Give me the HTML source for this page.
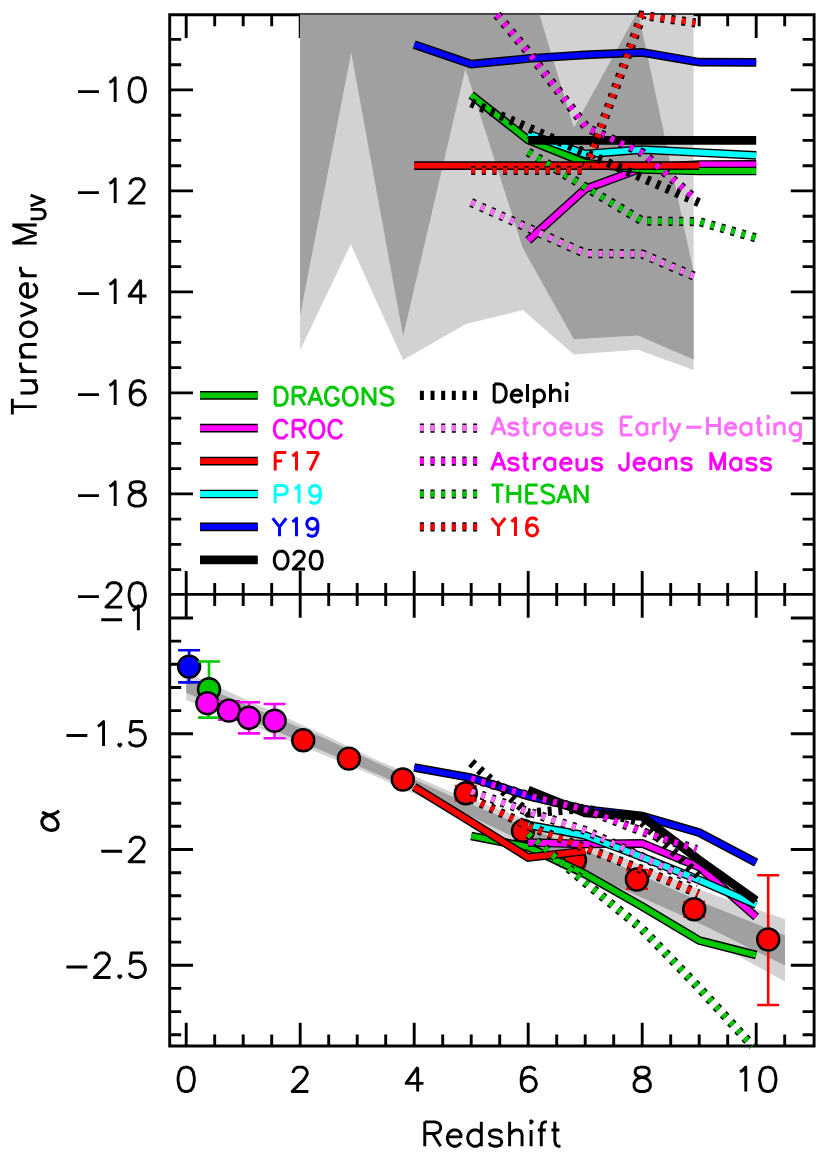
<!DOCTYPE html><html><head><meta charset="utf-8"><title>Turnover M_UV and alpha vs Redshift</title>
<style>html,body{margin:0;padding:0;background:#fff;font-family:"Liberation Sans",sans-serif}svg{display:block}</style></head><body>
<svg width="830" height="1171" viewBox="0 0 830 1171">
<rect width="830" height="1171" fill="#fff"/>
<defs><clipPath id="ct"><rect x="169.7" y="14.8" width="644.4" height="579.6"/></clipPath>
<clipPath id="cb"><rect x="169.7" y="594.4" width="644.4" height="451.6"/></clipPath></defs>
<path d="M169.7 14.8H814.1V1046.0H169.7ZM169.7 594.4H814.1M186.2 14.8v23.3M186.2 571.1v46.6M186.2 1046.0v-23.3M214.7 14.8v11.5M214.7 582.9v23.0M214.7 1046.0v-11.5M243.2 14.8v11.5M243.2 582.9v23.0M243.2 1046.0v-11.5M271.7 14.8v11.5M271.7 582.9v23.0M271.7 1046.0v-11.5M300.2 14.8v23.3M300.2 571.1v46.6M300.2 1046.0v-23.3M328.7 14.8v11.5M328.7 582.9v23.0M328.7 1046.0v-11.5M357.2 14.8v11.5M357.2 582.9v23.0M357.2 1046.0v-11.5M385.7 14.8v11.5M385.7 582.9v23.0M385.7 1046.0v-11.5M414.2 14.8v23.3M414.2 571.1v46.6M414.2 1046.0v-23.3M442.7 14.8v11.5M442.7 582.9v23.0M442.7 1046.0v-11.5M471.2 14.8v11.5M471.2 582.9v23.0M471.2 1046.0v-11.5M499.7 14.8v11.5M499.7 582.9v23.0M499.7 1046.0v-11.5M528.2 14.8v23.3M528.2 571.1v46.6M528.2 1046.0v-23.3M556.7 14.8v11.5M556.7 582.9v23.0M556.7 1046.0v-11.5M585.2 14.8v11.5M585.2 582.9v23.0M585.2 1046.0v-11.5M613.7 14.8v11.5M613.7 582.9v23.0M613.7 1046.0v-11.5M642.2 14.8v23.3M642.2 571.1v46.6M642.2 1046.0v-23.3M670.7 14.8v11.5M670.7 582.9v23.0M670.7 1046.0v-11.5M699.2 14.8v11.5M699.2 582.9v23.0M699.2 1046.0v-11.5M727.7 14.8v11.5M727.7 582.9v23.0M727.7 1046.0v-11.5M756.2 14.8v23.3M756.2 571.1v46.6M756.2 1046.0v-23.3M784.7 14.8v11.5M784.7 582.9v23.0M784.7 1046.0v-11.5M169.7 39.4h11.5M814.1 39.4h-11.5M169.7 64.7h11.5M814.1 64.7h-11.5M169.7 89.9h23.3M814.1 89.9h-23.3M169.7 115.2h11.5M814.1 115.2h-11.5M169.7 140.4h11.5M814.1 140.4h-11.5M169.7 165.7h11.5M814.1 165.7h-11.5M169.7 190.9h23.3M814.1 190.9h-23.3M169.7 216.2h11.5M814.1 216.2h-11.5M169.7 241.4h11.5M814.1 241.4h-11.5M169.7 266.6h11.5M814.1 266.6h-11.5M169.7 291.9h23.3M814.1 291.9h-23.3M169.7 317.1h11.5M814.1 317.1h-11.5M169.7 342.4h11.5M814.1 342.4h-11.5M169.7 367.6h11.5M814.1 367.6h-11.5M169.7 392.9h23.3M814.1 392.9h-23.3M169.7 418.1h11.5M814.1 418.1h-11.5M169.7 443.4h11.5M814.1 443.4h-11.5M169.7 468.6h11.5M814.1 468.6h-11.5M169.7 493.9h23.3M814.1 493.9h-23.3M169.7 519.1h11.5M814.1 519.1h-11.5M169.7 544.4h11.5M814.1 544.4h-11.5M169.7 569.6h11.5M814.1 569.6h-11.5M169.7 618.0h23.3M814.1 618.0h-23.3M169.7 641.1h11.5M814.1 641.1h-11.5M169.7 664.3h11.5M814.1 664.3h-11.5M169.7 687.5h11.5M814.1 687.5h-11.5M169.7 710.6h11.5M814.1 710.6h-11.5M169.7 733.8h23.3M814.1 733.8h-23.3M169.7 756.9h11.5M814.1 756.9h-11.5M169.7 780.1h11.5M814.1 780.1h-11.5M169.7 803.2h11.5M814.1 803.2h-11.5M169.7 826.3h11.5M814.1 826.3h-11.5M169.7 849.5h23.3M814.1 849.5h-23.3M169.7 872.7h11.5M814.1 872.7h-11.5M169.7 895.8h11.5M814.1 895.8h-11.5M169.7 918.9h11.5M814.1 918.9h-11.5M169.7 942.1h11.5M814.1 942.1h-11.5M169.7 965.2h23.3M814.1 965.2h-23.3M169.7 988.4h11.5M814.1 988.4h-11.5M169.7 1011.6h11.5M814.1 1011.6h-11.5M169.7 1034.7h11.5M814.1 1034.7h-11.5" fill="none" stroke="#000" stroke-width="2.90" stroke-linecap="butt" stroke-linejoin="miter"/>
<polygon clip-path="url(#ct)" fill="#d2d2d2" points="300.1,-50.0 300.1,350.2 350.7,244.3 403.1,360.0 465.9,324.0 522.8,310.1 573.9,354.4 637.9,349.8 693.6,370.0 693.6,-50.0"/>
<polygon clip-path="url(#ct)" fill="#a0a0a0" points="300.1,315.5 351.2,52.5 403.1,336.0 465.4,68.7 522.8,248.1 573.9,339.2 637.9,335.4 693.6,359.4 693.6,272.0 637.9,11.0 573.9,127.7 522.5,-41.0 300.1,-41.0"/>
<polyline points="528.2,240.5 585.2,189.0 642.2,168.0 699.2,164.5 756.2,164.3" fill="none" stroke="#000" stroke-width="8.70" stroke-linejoin="miter" stroke-miterlimit="10"/>
<polyline points="528.2,240.5 585.2,189.0 642.2,168.0 699.2,164.5 756.2,164.3" fill="none" stroke="#ff00ff" stroke-width="5.80" stroke-linejoin="miter" stroke-miterlimit="10"/>
<polyline points="471.2,95.0 528.2,140.0 585.2,163.0 642.2,169.5 699.2,171.0 756.2,171.0" fill="none" stroke="#000" stroke-width="8.70" stroke-linejoin="miter" stroke-miterlimit="10"/>
<polyline points="471.2,95.0 528.2,140.0 585.2,163.0 642.2,169.5 699.2,171.0 756.2,171.0" fill="none" stroke="#00c800" stroke-width="5.80" stroke-linejoin="miter" stroke-miterlimit="10"/>
<polyline points="414.2,165.7 699.2,165.7" fill="none" stroke="#000" stroke-width="8.70" stroke-linejoin="miter" stroke-miterlimit="10"/>
<polyline points="414.2,165.7 699.2,165.7" fill="none" stroke="#ff0000" stroke-width="5.80" stroke-linejoin="miter" stroke-miterlimit="10"/>
<polyline points="528.2,134.0 585.2,154.0 642.2,149.6 699.2,152.5 756.2,155.3" fill="none" stroke="#000" stroke-width="8.70" stroke-linejoin="miter" stroke-miterlimit="10"/>
<polyline points="528.2,134.0 585.2,154.0 642.2,149.6 699.2,152.5 756.2,155.3" fill="none" stroke="#00ffff" stroke-width="5.80" stroke-linejoin="miter" stroke-miterlimit="10"/>
<polyline points="414.2,44.6 471.2,64.2 528.2,58.5 585.2,54.8 642.2,52.4 699.2,62.2 756.2,62.4" fill="none" stroke="#000" stroke-width="8.70" stroke-linejoin="miter" stroke-miterlimit="10"/>
<polyline points="414.2,44.6 471.2,64.2 528.2,58.5 585.2,54.8 642.2,52.4 699.2,62.2 756.2,62.4" fill="none" stroke="#0000ff" stroke-width="5.80" stroke-linejoin="miter" stroke-miterlimit="10"/>
<polyline points="528.2,140.4 756.2,140.4" fill="none" stroke="#000" stroke-width="8.70" stroke-linejoin="miter" stroke-miterlimit="10"/>
<polyline points="471.2,102.8 700.5,203.3" fill="none" stroke="#000" stroke-width="9.20" stroke-linejoin="miter" stroke-miterlimit="10" stroke-dasharray="4.0 6.64"/>
<polyline points="471.2,202.5 528.2,228.0 585.2,253.5 642.2,254.0 696.0,277.0" fill="none" stroke="#000" stroke-width="9.20" stroke-linejoin="miter" stroke-miterlimit="10" stroke-dasharray="4.0 6.64"/>
<polyline points="471.2,202.5 528.2,228.0 585.2,253.5 642.2,254.0 696.0,277.0" fill="none" stroke="#ff6eff" stroke-width="6.20" stroke-linejoin="miter" stroke-miterlimit="10" stroke-dasharray="4.0 6.64"/>
<polyline points="497.0,14.8 528.2,52.0 586.8,127.8 642.2,152.7 696.0,199.6" fill="none" stroke="#000" stroke-width="9.20" stroke-linejoin="miter" stroke-miterlimit="10" stroke-dasharray="4.0 6.64"/>
<polyline points="497.0,14.8 528.2,52.0 586.8,127.8 642.2,152.7 696.0,199.6" fill="none" stroke="#ff00ff" stroke-width="6.20" stroke-linejoin="miter" stroke-miterlimit="10" stroke-dasharray="4.0 6.64"/>
<polyline points="528.2,152.0 585.2,187.0 642.2,221.0 699.2,221.6 756.2,238.0" fill="none" stroke="#000" stroke-width="9.20" stroke-linejoin="miter" stroke-miterlimit="10" stroke-dasharray="4.0 6.64"/>
<polyline points="528.2,152.0 585.2,187.0 642.2,221.0 699.2,221.6 756.2,238.0" fill="none" stroke="#00c800" stroke-width="6.20" stroke-linejoin="miter" stroke-miterlimit="10" stroke-dasharray="4.0 6.64"/>
<polyline points="471.2,170.5 528.2,170.5 585.2,170.5 642.2,15.3 695.5,22.9" fill="none" stroke="#000" stroke-width="9.20" stroke-linejoin="miter" stroke-miterlimit="10" stroke-dasharray="4.0 6.64"/>
<polyline points="471.2,170.5 528.2,170.5 585.2,170.5 642.2,15.3 695.5,22.9" fill="none" stroke="#ff0000" stroke-width="6.20" stroke-linejoin="miter" stroke-miterlimit="10" stroke-dasharray="4.0 6.64"/>
<polyline points="200.0,395.3 257.8,395.3" fill="none" stroke="#000" stroke-width="8.70" stroke-linejoin="miter" stroke-miterlimit="10"/>
<polyline points="200.0,395.3 257.8,395.3" fill="none" stroke="#00c800" stroke-width="5.80" stroke-linejoin="miter" stroke-miterlimit="10"/>
<path transform="translate(271.79 405.20) translate(0.00 0)" d="M3.41 -17.91L3.41 0.00 M3.41 -17.91L9.38 -17.91L11.94 -17.06L13.65 -15.35L14.50 -13.65L15.35 -11.09L15.35 -6.82L14.50 -4.26L13.65 -2.56L11.94 -0.85L9.38 0.00L3.41 0.00 M21.32 -17.91L21.32 0.00 M21.32 -17.91L29.00 -17.91L31.56 -17.06L32.41 -16.21L33.27 -14.50L33.27 -12.79L32.41 -11.09L31.56 -10.24L29.00 -9.38L21.32 -9.38 M27.30 -9.38L33.27 0.00 M43.50 -17.91L36.68 0.00 M43.50 -17.91L50.33 0.00 M39.24 -5.97L47.77 -5.97 M66.53 -13.65L65.68 -15.35L63.98 -17.06L62.27 -17.91L58.86 -17.91L57.15 -17.06L55.45 -15.35L54.59 -13.65L53.74 -11.09L53.74 -6.82L54.59 -4.26L55.45 -2.56L57.15 -0.85L58.86 0.00L62.27 0.00L63.98 -0.85L65.68 -2.56L66.53 -4.26L66.53 -6.82 M62.27 -6.82L66.53 -6.82 M76.77 -17.91L75.06 -17.06L73.36 -15.35L72.50 -13.65L71.65 -11.09L71.65 -6.82L72.50 -4.26L73.36 -2.56L75.06 -0.85L76.77 0.00L80.18 0.00L81.89 -0.85L83.59 -2.56L84.45 -4.26L85.30 -6.82L85.30 -11.09L84.45 -13.65L83.59 -15.35L81.89 -17.06L80.18 -17.91L76.77 -17.91 M91.27 -17.91L91.27 0.00 M91.27 -17.91L103.21 0.00 M103.21 -17.91L103.21 0.00 M121.13 -15.35L119.42 -17.06L116.86 -17.91L113.45 -17.91L110.89 -17.06L109.18 -15.35L109.18 -13.65L110.04 -11.94L110.89 -11.09L112.60 -10.24L117.71 -8.53L119.42 -7.68L120.27 -6.82L121.13 -5.12L121.13 -2.56L119.42 -0.85L116.86 0.00L113.45 0.00L110.89 -0.85L109.18 -2.56" fill="none" stroke="#00c800" stroke-width="3.00" stroke-linecap="butt" stroke-linejoin="round"/>
<polyline points="200.0,428.2 257.8,428.2" fill="none" stroke="#000" stroke-width="8.70" stroke-linejoin="miter" stroke-miterlimit="10"/>
<polyline points="200.0,428.2 257.8,428.2" fill="none" stroke="#ff00ff" stroke-width="5.80" stroke-linejoin="miter" stroke-miterlimit="10"/>
<path transform="translate(271.79 438.10) translate(0.00 0)" d="M15.35 -13.65L14.50 -15.35L12.79 -17.06L11.09 -17.91L7.68 -17.91L5.97 -17.06L4.26 -15.35L3.41 -13.65L2.56 -11.09L2.56 -6.82L3.41 -4.26L4.26 -2.56L5.97 -0.85L7.68 0.00L11.09 0.00L12.79 -0.85L14.50 -2.56L15.35 -4.26 M21.32 -17.91L21.32 0.00 M21.32 -17.91L29.00 -17.91L31.56 -17.06L32.41 -16.21L33.27 -14.50L33.27 -12.79L32.41 -11.09L31.56 -10.24L29.00 -9.38L21.32 -9.38 M27.30 -9.38L33.27 0.00 M43.50 -17.91L41.80 -17.06L40.09 -15.35L39.24 -13.65L38.38 -11.09L38.38 -6.82L39.24 -4.26L40.09 -2.56L41.80 -0.85L43.50 0.00L46.91 0.00L48.62 -0.85L50.33 -2.56L51.18 -4.26L52.03 -6.82L52.03 -11.09L51.18 -13.65L50.33 -15.35L48.62 -17.06L46.91 -17.91L43.50 -17.91 M69.95 -13.65L69.09 -15.35L67.39 -17.06L65.68 -17.91L62.27 -17.91L60.56 -17.06L58.86 -15.35L58.00 -13.65L57.15 -11.09L57.15 -6.82L58.00 -4.26L58.86 -2.56L60.56 -0.85L62.27 0.00L65.68 0.00L67.39 -0.85L69.09 -2.56L69.95 -4.26" fill="none" stroke="#ff00ff" stroke-width="3.00" stroke-linecap="butt" stroke-linejoin="round"/>
<polyline points="200.0,461.1 257.8,461.1" fill="none" stroke="#000" stroke-width="8.70" stroke-linejoin="miter" stroke-miterlimit="10"/>
<polyline points="200.0,461.1 257.8,461.1" fill="none" stroke="#ff0000" stroke-width="5.80" stroke-linejoin="miter" stroke-miterlimit="10"/>
<path transform="translate(271.79 470.40) translate(0.00 0)" d="M3.41 -17.91L3.41 0.00 M3.41 -17.91L14.50 -17.91 M3.41 -9.38L10.24 -9.38 M20.47 -14.50L22.18 -15.35L24.74 -17.91L24.74 0.00 M46.91 -17.91L38.38 0.00 M34.97 -17.91L46.91 -17.91" fill="none" stroke="#ff0000" stroke-width="3.00" stroke-linecap="butt" stroke-linejoin="round"/>
<polyline points="200.0,494.0 257.8,494.0" fill="none" stroke="#000" stroke-width="8.70" stroke-linejoin="miter" stroke-miterlimit="10"/>
<polyline points="200.0,494.0 257.8,494.0" fill="none" stroke="#00ffff" stroke-width="5.80" stroke-linejoin="miter" stroke-miterlimit="10"/>
<path transform="translate(271.79 503.30) translate(0.00 0)" d="M3.41 -17.91L3.41 0.00 M3.41 -17.91L11.09 -17.91L13.65 -17.06L14.50 -16.21L15.35 -14.50L15.35 -11.94L14.50 -10.24L13.65 -9.38L11.09 -8.53L3.41 -8.53 M23.03 -14.50L24.74 -15.35L27.30 -17.91L27.30 0.00 M48.62 -11.94L47.77 -9.38L46.06 -7.68L43.50 -6.82L42.65 -6.82L40.09 -7.68L38.38 -9.38L37.53 -11.94L37.53 -12.79L38.38 -15.35L40.09 -17.06L42.65 -17.91L43.50 -17.91L46.06 -17.06L47.77 -15.35L48.62 -11.94L48.62 -7.68L47.77 -3.41L46.06 -0.85L43.50 0.00L41.80 0.00L39.24 -0.85L38.38 -2.56" fill="none" stroke="#00ffff" stroke-width="3.00" stroke-linecap="butt" stroke-linejoin="round"/>
<polyline points="200.0,526.9 257.8,526.9" fill="none" stroke="#000" stroke-width="8.70" stroke-linejoin="miter" stroke-miterlimit="10"/>
<polyline points="200.0,526.9 257.8,526.9" fill="none" stroke="#0000ff" stroke-width="5.80" stroke-linejoin="miter" stroke-miterlimit="10"/>
<path transform="translate(271.79 536.20) translate(0.00 0)" d="M0.85 -17.91L7.68 -9.38L7.68 0.00 M14.50 -17.91L7.68 -9.38 M20.47 -14.50L22.18 -15.35L24.74 -17.91L24.74 0.00 M46.06 -11.94L45.21 -9.38L43.50 -7.68L40.94 -6.82L40.09 -6.82L37.53 -7.68L35.83 -9.38L34.97 -11.94L34.97 -12.79L35.83 -15.35L37.53 -17.06L40.09 -17.91L40.94 -17.91L43.50 -17.06L45.21 -15.35L46.06 -11.94L46.06 -7.68L45.21 -3.41L43.50 -0.85L40.94 0.00L39.24 0.00L36.68 -0.85L35.83 -2.56" fill="none" stroke="#0000ff" stroke-width="3.00" stroke-linecap="butt" stroke-linejoin="round"/>
<polyline points="200.0,559.8 257.8,559.8" fill="none" stroke="#000" stroke-width="8.70" stroke-linejoin="miter" stroke-miterlimit="10"/>
<path transform="translate(271.79 569.10) translate(0.00 0)" d="M7.68 -17.91L5.97 -17.06L4.26 -15.35L3.41 -13.65L2.56 -11.09L2.56 -6.82L3.41 -4.26L4.26 -2.56L5.97 -0.85L7.68 0.00L11.09 0.00L12.79 -0.85L14.50 -2.56L15.35 -4.26L16.21 -6.82L16.21 -11.09L15.35 -13.65L14.50 -15.35L12.79 -17.06L11.09 -17.91L7.68 -17.91 M22.18 -13.65L22.18 -14.50L23.03 -16.21L23.88 -17.06L25.59 -17.91L29.00 -17.91L30.71 -17.06L31.56 -16.21L32.41 -14.50L32.41 -12.79L31.56 -11.09L29.86 -8.53L21.32 0.00L33.27 0.00 M43.50 -17.91L40.94 -17.06L39.24 -14.50L38.38 -10.24L38.38 -7.68L39.24 -3.41L40.94 -0.85L43.50 0.00L45.21 0.00L47.77 -0.85L49.47 -3.41L50.33 -7.68L50.33 -10.24L49.47 -14.50L47.77 -17.06L45.21 -17.91L43.50 -17.91" fill="none" stroke="#000" stroke-width="3.00" stroke-linecap="butt" stroke-linejoin="round"/>
<polyline points="419.9,395.3 478.0,395.3" fill="none" stroke="#000" stroke-width="9.20" stroke-linejoin="miter" stroke-miterlimit="10" stroke-dasharray="4.0 6.64"/>
<path transform="translate(490.79 402.00) translate(0.00 0)" d="M3.41 -17.91L3.41 0.00 M3.41 -17.91L9.38 -17.91L11.94 -17.06L13.65 -15.35L14.50 -13.65L15.35 -11.09L15.35 -6.82L14.50 -4.26L13.65 -2.56L11.94 -0.85L9.38 0.00L3.41 0.00 M20.47 -6.82L30.71 -6.82L30.71 -8.53L29.86 -10.24L29.00 -11.09L27.30 -11.94L24.74 -11.94L23.03 -11.09L21.32 -9.38L20.47 -6.82L20.47 -5.12L21.32 -2.56L23.03 -0.85L24.74 0.00L27.30 0.00L29.00 -0.85L30.71 -2.56 M36.68 -17.91L36.68 0.00 M43.50 -11.94L43.50 5.97 M43.50 -9.38L45.21 -11.09L46.91 -11.94L49.47 -11.94L51.18 -11.09L52.89 -9.38L53.74 -6.82L53.74 -5.12L52.89 -2.56L51.18 -0.85L49.47 0.00L46.91 0.00L45.21 -0.85L43.50 -2.56 M59.71 -17.91L59.71 0.00 M59.71 -8.53L62.27 -11.09L63.98 -11.94L66.53 -11.94L68.24 -11.09L69.09 -8.53L69.09 0.00 M75.06 -17.91L75.92 -17.06L76.77 -17.91L75.92 -18.77L75.06 -17.91 M75.92 -11.94L75.92 0.00" fill="none" stroke="#000" stroke-width="3.00" stroke-linecap="butt" stroke-linejoin="round"/>
<polyline points="419.9,428.2 478.0,428.2" fill="none" stroke="#000" stroke-width="9.20" stroke-linejoin="miter" stroke-miterlimit="10" stroke-dasharray="4.0 6.64"/>
<polyline points="419.9,428.2 478.0,428.2" fill="none" stroke="#ff6eff" stroke-width="6.20" stroke-linejoin="miter" stroke-miterlimit="10" stroke-dasharray="4.0 6.64"/>
<path transform="translate(490.79 434.90) translate(0.00 0)" d="M7.68 -17.91L0.85 0.00 M7.68 -17.91L14.50 0.00 M3.41 -5.97L11.94 -5.97 M27.30 -9.38L26.44 -11.09L23.88 -11.94L21.32 -11.94L18.77 -11.09L17.91 -9.38L18.77 -7.68L20.47 -6.82L24.74 -5.97L26.44 -5.12L27.30 -3.41L27.30 -2.56L26.44 -0.85L23.88 0.00L21.32 0.00L18.77 -0.85L17.91 -2.56 M34.12 -17.91L34.12 -3.41L34.97 -0.85L36.68 0.00L38.38 0.00 M31.56 -11.94L37.53 -11.94 M43.50 -11.94L43.50 0.00 M43.50 -6.82L44.36 -9.38L46.06 -11.09L47.77 -11.94L50.33 -11.94 M63.98 -11.94L63.98 0.00 M63.98 -9.38L62.27 -11.09L60.56 -11.94L58.00 -11.94L56.30 -11.09L54.59 -9.38L53.74 -6.82L53.74 -5.12L54.59 -2.56L56.30 -0.85L58.00 0.00L60.56 0.00L62.27 -0.85L63.98 -2.56 M69.95 -6.82L80.18 -6.82L80.18 -8.53L79.33 -10.24L78.48 -11.09L76.77 -11.94L74.21 -11.94L72.50 -11.09L70.80 -9.38L69.95 -6.82L69.95 -5.12L70.80 -2.56L72.50 -0.85L74.21 0.00L76.77 0.00L78.48 -0.85L80.18 -2.56 M86.15 -11.94L86.15 -3.41L87.01 -0.85L88.71 0.00L91.27 0.00L92.98 -0.85L95.54 -3.41 M95.54 -11.94L95.54 0.00 M110.89 -9.38L110.04 -11.09L107.48 -11.94L104.92 -11.94L102.36 -11.09L101.51 -9.38L102.36 -7.68L104.07 -6.82L108.33 -5.97L110.04 -5.12L110.89 -3.41L110.89 -2.56L110.04 -0.85L107.48 0.00L104.92 0.00L102.36 -0.85L101.51 -2.56 M130.51 -17.91L130.51 0.00 M130.51 -17.91L141.60 -17.91 M130.51 -9.38L137.33 -9.38 M130.51 0.00L141.60 0.00 M156.10 -11.94L156.10 0.00 M156.10 -9.38L154.39 -11.09L152.69 -11.94L150.13 -11.94L148.42 -11.09L146.72 -9.38L145.86 -6.82L145.86 -5.12L146.72 -2.56L148.42 -0.85L150.13 0.00L152.69 0.00L154.39 -0.85L156.10 -2.56 M162.92 -11.94L162.92 0.00 M162.92 -6.82L163.78 -9.38L165.48 -11.09L167.19 -11.94L169.75 -11.94 M174.01 -17.91L174.01 0.00 M179.13 -11.94L184.25 0.00 M189.37 -11.94L184.25 0.00L182.54 3.41L180.84 5.12L179.13 5.97L178.28 5.97 M195.34 -7.68L210.69 -7.68 M216.66 -17.91L216.66 0.00 M228.60 -17.91L228.60 0.00 M216.66 -9.38L228.60 -9.38 M234.57 -6.82L244.81 -6.82L244.81 -8.53L243.96 -10.24L243.10 -11.09L241.40 -11.94L238.84 -11.94L237.13 -11.09L235.43 -9.38L234.57 -6.82L234.57 -5.12L235.43 -2.56L237.13 -0.85L238.84 0.00L241.40 0.00L243.10 -0.85L244.81 -2.56 M260.17 -11.94L260.17 0.00 M260.17 -9.38L258.46 -11.09L256.75 -11.94L254.19 -11.94L252.49 -11.09L250.78 -9.38L249.93 -6.82L249.93 -5.12L250.78 -2.56L252.49 -0.85L254.19 0.00L256.75 0.00L258.46 -0.85L260.17 -2.56 M267.84 -17.91L267.84 -3.41L268.69 -0.85L270.40 0.00L272.11 0.00 M265.28 -11.94L271.25 -11.94 M276.37 -17.91L277.22 -17.06L278.08 -17.91L277.22 -18.77L276.37 -17.91 M277.22 -11.94L277.22 0.00 M284.05 -11.94L284.05 0.00 M284.05 -8.53L286.61 -11.09L288.31 -11.94L290.87 -11.94L292.58 -11.09L293.43 -8.53L293.43 0.00 M309.64 -11.94L309.64 1.71L308.79 4.26L307.93 5.12L306.23 5.97L303.67 5.97L301.96 5.12 M309.64 -9.38L307.93 -11.09L306.23 -11.94L303.67 -11.94L301.96 -11.09L300.26 -9.38L299.40 -6.82L299.40 -5.12L300.26 -2.56L301.96 -0.85L303.67 0.00L306.23 0.00L307.93 -0.85L309.64 -2.56" fill="none" stroke="#ff6eff" stroke-width="3.00" stroke-linecap="butt" stroke-linejoin="round"/>
<polyline points="419.9,461.1 478.0,461.1" fill="none" stroke="#000" stroke-width="9.20" stroke-linejoin="miter" stroke-miterlimit="10" stroke-dasharray="4.0 6.64"/>
<polyline points="419.9,461.1 478.0,461.1" fill="none" stroke="#ff00ff" stroke-width="6.20" stroke-linejoin="miter" stroke-miterlimit="10" stroke-dasharray="4.0 6.64"/>
<path transform="translate(490.79 470.10) translate(0.00 0)" d="M7.68 -17.91L0.85 0.00 M7.68 -17.91L14.50 0.00 M3.41 -5.97L11.94 -5.97 M27.30 -9.38L26.44 -11.09L23.88 -11.94L21.32 -11.94L18.77 -11.09L17.91 -9.38L18.77 -7.68L20.47 -6.82L24.74 -5.97L26.44 -5.12L27.30 -3.41L27.30 -2.56L26.44 -0.85L23.88 0.00L21.32 0.00L18.77 -0.85L17.91 -2.56 M34.12 -17.91L34.12 -3.41L34.97 -0.85L36.68 0.00L38.38 0.00 M31.56 -11.94L37.53 -11.94 M43.50 -11.94L43.50 0.00 M43.50 -6.82L44.36 -9.38L46.06 -11.09L47.77 -11.94L50.33 -11.94 M63.98 -11.94L63.98 0.00 M63.98 -9.38L62.27 -11.09L60.56 -11.94L58.00 -11.94L56.30 -11.09L54.59 -9.38L53.74 -6.82L53.74 -5.12L54.59 -2.56L56.30 -0.85L58.00 0.00L60.56 0.00L62.27 -0.85L63.98 -2.56 M69.95 -6.82L80.18 -6.82L80.18 -8.53L79.33 -10.24L78.48 -11.09L76.77 -11.94L74.21 -11.94L72.50 -11.09L70.80 -9.38L69.95 -6.82L69.95 -5.12L70.80 -2.56L72.50 -0.85L74.21 0.00L76.77 0.00L78.48 -0.85L80.18 -2.56 M86.15 -11.94L86.15 -3.41L87.01 -0.85L88.71 0.00L91.27 0.00L92.98 -0.85L95.54 -3.41 M95.54 -11.94L95.54 0.00 M110.89 -9.38L110.04 -11.09L107.48 -11.94L104.92 -11.94L102.36 -11.09L101.51 -9.38L102.36 -7.68L104.07 -6.82L108.33 -5.97L110.04 -5.12L110.89 -3.41L110.89 -2.56L110.04 -0.85L107.48 0.00L104.92 0.00L102.36 -0.85L101.51 -2.56 M137.33 -17.91L137.33 -4.26L136.48 -1.71L135.63 -0.85L133.92 0.00L132.22 0.00L130.51 -0.85L129.66 -1.71L128.80 -4.26L128.80 -5.97 M143.30 -6.82L153.54 -6.82L153.54 -8.53L152.69 -10.24L151.83 -11.09L150.13 -11.94L147.57 -11.94L145.86 -11.09L144.16 -9.38L143.30 -6.82L143.30 -5.12L144.16 -2.56L145.86 -0.85L147.57 0.00L150.13 0.00L151.83 -0.85L153.54 -2.56 M168.89 -11.94L168.89 0.00 M168.89 -9.38L167.19 -11.09L165.48 -11.94L162.92 -11.94L161.22 -11.09L159.51 -9.38L158.66 -6.82L158.66 -5.12L159.51 -2.56L161.22 -0.85L162.92 0.00L165.48 0.00L167.19 -0.85L168.89 -2.56 M175.72 -11.94L175.72 0.00 M175.72 -8.53L178.28 -11.09L179.98 -11.94L182.54 -11.94L184.25 -11.09L185.10 -8.53L185.10 0.00 M200.45 -9.38L199.60 -11.09L197.04 -11.94L194.48 -11.94L191.92 -11.09L191.07 -9.38L191.92 -7.68L193.63 -6.82L197.90 -5.97L199.60 -5.12L200.45 -3.41L200.45 -2.56L199.60 -0.85L197.04 0.00L194.48 0.00L191.92 -0.85L191.07 -2.56 M220.07 -17.91L220.07 0.00 M220.07 -17.91L226.90 0.00 M233.72 -17.91L226.90 0.00 M233.72 -17.91L233.72 0.00 M249.93 -11.94L249.93 0.00 M249.93 -9.38L248.22 -11.09L246.52 -11.94L243.96 -11.94L242.25 -11.09L240.55 -9.38L239.69 -6.82L239.69 -5.12L240.55 -2.56L242.25 -0.85L243.96 0.00L246.52 0.00L248.22 -0.85L249.93 -2.56 M265.28 -9.38L264.43 -11.09L261.87 -11.94L259.31 -11.94L256.75 -11.09L255.90 -9.38L256.75 -7.68L258.46 -6.82L262.72 -5.97L264.43 -5.12L265.28 -3.41L265.28 -2.56L264.43 -0.85L261.87 0.00L259.31 0.00L256.75 -0.85L255.90 -2.56 M279.78 -9.38L278.93 -11.09L276.37 -11.94L273.81 -11.94L271.25 -11.09L270.40 -9.38L271.25 -7.68L272.96 -6.82L277.22 -5.97L278.93 -5.12L279.78 -3.41L279.78 -2.56L278.93 -0.85L276.37 0.00L273.81 0.00L271.25 -0.85L270.40 -2.56" fill="none" stroke="#ff00ff" stroke-width="3.00" stroke-linecap="butt" stroke-linejoin="round"/>
<polyline points="419.9,494.0 478.0,494.0" fill="none" stroke="#000" stroke-width="9.20" stroke-linejoin="miter" stroke-miterlimit="10" stroke-dasharray="4.0 6.64"/>
<polyline points="419.9,494.0 478.0,494.0" fill="none" stroke="#00c800" stroke-width="6.20" stroke-linejoin="miter" stroke-miterlimit="10" stroke-dasharray="4.0 6.64"/>
<path transform="translate(490.79 503.00) translate(0.00 0)" d="M6.82 -17.91L6.82 0.00 M0.85 -17.91L12.79 -17.91 M17.06 -17.91L17.06 0.00 M29.00 -17.91L29.00 0.00 M17.06 -9.38L29.00 -9.38 M35.83 -17.91L35.83 0.00 M35.83 -17.91L46.91 -17.91 M35.83 -9.38L42.65 -9.38 M35.83 0.00L46.91 0.00 M63.12 -15.35L61.42 -17.06L58.86 -17.91L55.45 -17.91L52.89 -17.06L51.18 -15.35L51.18 -13.65L52.03 -11.94L52.89 -11.09L54.59 -10.24L59.71 -8.53L61.42 -7.68L62.27 -6.82L63.12 -5.12L63.12 -2.56L61.42 -0.85L58.86 0.00L55.45 0.00L52.89 -0.85L51.18 -2.56 M73.36 -17.91L66.53 0.00 M73.36 -17.91L80.18 0.00 M69.09 -5.97L77.62 -5.97 M84.45 -17.91L84.45 0.00 M84.45 -17.91L96.39 0.00 M96.39 -17.91L96.39 0.00" fill="none" stroke="#00c800" stroke-width="3.00" stroke-linecap="butt" stroke-linejoin="round"/>
<polyline points="419.9,526.9 478.0,526.9" fill="none" stroke="#000" stroke-width="9.20" stroke-linejoin="miter" stroke-miterlimit="10" stroke-dasharray="4.0 6.64"/>
<polyline points="419.9,526.9 478.0,526.9" fill="none" stroke="#ff0000" stroke-width="6.20" stroke-linejoin="miter" stroke-miterlimit="10" stroke-dasharray="4.0 6.64"/>
<path transform="translate(490.79 535.90) translate(0.00 0)" d="M0.85 -17.91L7.68 -9.38L7.68 0.00 M14.50 -17.91L7.68 -9.38 M20.47 -14.50L22.18 -15.35L24.74 -17.91L24.74 0.00 M46.06 -15.35L45.21 -17.06L42.65 -17.91L40.94 -17.91L38.38 -17.06L36.68 -14.50L35.83 -10.24L35.83 -5.97L36.68 -2.56L38.38 -0.85L40.94 0.00L41.80 0.00L44.36 -0.85L46.06 -2.56L46.91 -5.12L46.91 -5.97L46.06 -8.53L44.36 -10.24L41.80 -11.09L40.94 -11.09L38.38 -10.24L36.68 -8.53L35.83 -5.97" fill="none" stroke="#ff0000" stroke-width="3.00" stroke-linecap="butt" stroke-linejoin="round"/>
<polygon clip-path="url(#cb)" fill="#d2d2d2" points="186.2,671.9 250.0,701.4 324.0,734.7 374.0,758.7 451.0,791.9 505.0,811.5 560.0,832.6 609.0,851.4 667.0,876.3 705.0,891.7 785.0,919.2 785.0,981.6 705.0,937.7 667.0,919.3 609.0,892.4 560.0,867.6 505.0,839.5 451.0,810.9 374.0,775.5 324.0,754.9 250.0,725.0 186.2,699.9"/>
<polygon clip-path="url(#cb)" fill="#a0a0a0" points="186.2,679.1 250.0,706.4 324.0,738.1 374.0,761.5 451.0,795.9 505.0,818.2 560.0,840.6 609.0,860.5 667.0,886.8 705.0,903.4 785.0,935.3 785.0,965.6 705.0,926.0 667.0,908.8 609.0,883.3 560.0,859.6 505.0,832.8 451.0,806.9 374.0,772.7 324.0,751.5 250.0,720.0 186.2,692.7"/>
<path d="M189.1 650.3V682.4M178.1 650.3h22M178.1 682.4h22" fill="none" stroke="#0000ff" stroke-width="2.6"/>
<circle cx="189.1" cy="666.6" r="11.0" fill="#0000ff" stroke="#000" stroke-width="2.4"/>
<path d="M209.0 661.5V717.6M198.0 661.5h22M198.0 717.6h22" fill="none" stroke="#00c800" stroke-width="2.6"/>
<circle cx="209.0" cy="689.3" r="11.0" fill="#00c800" stroke="#000" stroke-width="2.4"/>
<circle cx="207.4" cy="703.2" r="11.0" fill="#ff00ff" stroke="#000" stroke-width="2.4"/>
<path d="M228.9 701.4V719.8M217.9 701.4h22M217.9 719.8h22" fill="none" stroke="#ff00ff" stroke-width="2.6"/>
<circle cx="228.9" cy="710.6" r="11.0" fill="#ff00ff" stroke="#000" stroke-width="2.4"/>
<path d="M249.0 702.3V733.4M238.0 702.3h22M238.0 733.4h22" fill="none" stroke="#ff00ff" stroke-width="2.6"/>
<circle cx="249.0" cy="717.8" r="11.0" fill="#ff00ff" stroke="#000" stroke-width="2.4"/>
<path d="M274.6 704.0V738.3M263.6 704.0h22M263.6 738.3h22" fill="none" stroke="#ff00ff" stroke-width="2.6"/>
<circle cx="274.6" cy="720.7" r="11.0" fill="#ff00ff" stroke="#000" stroke-width="2.4"/>
<circle cx="303.2" cy="740.3" r="11.0" fill="#ff0000" stroke="#000" stroke-width="2.4"/>
<circle cx="348.9" cy="758.6" r="11.0" fill="#ff0000" stroke="#000" stroke-width="2.4"/>
<circle cx="402.8" cy="779.5" r="11.0" fill="#ff0000" stroke="#000" stroke-width="2.4"/>
<path d="M465.8 786.1V800.5M454.8 786.1h22M454.8 800.5h22" fill="none" stroke="#ff0000" stroke-width="2.6"/>
<circle cx="465.8" cy="793.3" r="11.0" fill="#ff0000" stroke="#000" stroke-width="2.4"/>
<path d="M523.0 826.0V835.6M512.0 826.0h22M512.0 835.6h22" fill="none" stroke="#ff0000" stroke-width="2.6"/>
<circle cx="523.0" cy="830.8" r="11.0" fill="#ff0000" stroke="#000" stroke-width="2.4"/>
<path d="M575.0 853.0V867.2M564.0 853.0h22M564.0 867.2h22" fill="none" stroke="#ff0000" stroke-width="2.6"/>
<circle cx="575.0" cy="860.1" r="11.0" fill="#ff0000" stroke="#000" stroke-width="2.4"/>
<path d="M636.9 870.2V888.7M625.9 870.2h22M625.9 888.7h22" fill="none" stroke="#ff0000" stroke-width="2.6"/>
<circle cx="636.9" cy="879.5" r="11.0" fill="#ff0000" stroke="#000" stroke-width="2.4"/>
<path d="M694.2 902.1V916.5M683.2 902.1h22M683.2 916.5h22" fill="none" stroke="#ff0000" stroke-width="2.6"/>
<circle cx="694.2" cy="909.3" r="11.0" fill="#ff0000" stroke="#000" stroke-width="2.4"/>
<path d="M768.2 875.2V1005.0M757.2 875.2h22M757.2 1005.0h22" fill="none" stroke="#ff0000" stroke-width="2.6"/>
<circle cx="768.2" cy="939.5" r="11.0" fill="#ff0000" stroke="#000" stroke-width="2.4"/>
<polyline points="471.2,836.0 528.2,847.0 585.2,874.0 642.2,906.4 699.2,940.5 756.2,955.0" fill="none" stroke="#000" stroke-width="8.70" stroke-linejoin="miter" stroke-miterlimit="10"/>
<polyline points="471.2,836.0 528.2,847.0 585.2,874.0 642.2,906.4 699.2,940.5 756.2,955.0" fill="none" stroke="#00c800" stroke-width="5.80" stroke-linejoin="miter" stroke-miterlimit="10"/>
<polyline points="528.2,842.5 585.2,844.0 642.2,843.4 699.2,867.0 756.2,917.0" fill="none" stroke="#000" stroke-width="8.70" stroke-linejoin="miter" stroke-miterlimit="10"/>
<polyline points="528.2,842.5 585.2,844.0 642.2,843.4 699.2,867.0 756.2,917.0" fill="none" stroke="#ff00ff" stroke-width="5.80" stroke-linejoin="miter" stroke-miterlimit="10"/>
<polyline points="414.2,787.0 471.2,822.0 528.2,857.5 585.2,851.0" fill="none" stroke="#000" stroke-width="8.70" stroke-linejoin="miter" stroke-miterlimit="10"/>
<polyline points="414.2,787.0 471.2,822.0 528.2,857.5 585.2,851.0" fill="none" stroke="#ff0000" stroke-width="5.80" stroke-linejoin="miter" stroke-miterlimit="10"/>
<polyline points="528.2,825.0 585.2,835.5 642.2,857.0 699.2,880.0 756.2,904.7" fill="none" stroke="#000" stroke-width="8.70" stroke-linejoin="miter" stroke-miterlimit="10"/>
<polyline points="528.2,825.0 585.2,835.5 642.2,857.0 699.2,880.0 756.2,904.7" fill="none" stroke="#00ffff" stroke-width="5.80" stroke-linejoin="miter" stroke-miterlimit="10"/>
<polyline points="414.2,767.5 471.2,777.8 528.2,796.0 585.2,809.5 642.2,816.0 699.2,832.6 756.2,862.6" fill="none" stroke="#000" stroke-width="8.70" stroke-linejoin="miter" stroke-miterlimit="10"/>
<polyline points="414.2,767.5 471.2,777.8 528.2,796.0 585.2,809.5 642.2,816.0 699.2,832.6 756.2,862.6" fill="none" stroke="#0000ff" stroke-width="5.80" stroke-linejoin="miter" stroke-miterlimit="10"/>
<polyline points="528.2,790.0 585.2,813.0 642.2,816.5 699.2,860.0 756.2,900.5" fill="none" stroke="#000" stroke-width="8.70" stroke-linejoin="miter" stroke-miterlimit="10"/>
<polyline points="471.2,762.5 528.2,813.0 585.2,808.5 642.2,822.3 698.5,875.5" fill="none" stroke="#000" stroke-width="9.20" stroke-linejoin="miter" stroke-miterlimit="10" stroke-dasharray="4.0 6.64"/>
<polyline points="471.2,791.5 528.2,811.7 585.2,830.5 642.2,857.0 698.5,882.8" fill="none" stroke="#000" stroke-width="9.20" stroke-linejoin="miter" stroke-miterlimit="10" stroke-dasharray="4.0 6.64"/>
<polyline points="471.2,791.5 528.2,811.7 585.2,830.5 642.2,857.0 698.5,882.8" fill="none" stroke="#ff6eff" stroke-width="6.20" stroke-linejoin="miter" stroke-miterlimit="10" stroke-dasharray="4.0 6.64"/>
<polyline points="471.2,778.4 528.2,795.5 585.2,809.6 642.2,831.5 696.5,849.5" fill="none" stroke="#000" stroke-width="9.20" stroke-linejoin="miter" stroke-miterlimit="10" stroke-dasharray="4.0 6.64"/>
<polyline points="471.2,778.4 528.2,795.5 585.2,809.6 642.2,831.5 696.5,849.5" fill="none" stroke="#ff00ff" stroke-width="6.20" stroke-linejoin="miter" stroke-miterlimit="10" stroke-dasharray="4.0 6.64"/>
<polyline points="528.2,834.0 585.2,882.5 642.2,929.0 699.2,988.0 752.5,1046.0" fill="none" stroke="#000" stroke-width="9.20" stroke-linejoin="miter" stroke-miterlimit="10" stroke-dasharray="4.0 6.64"/>
<polyline points="528.2,834.0 585.2,882.5 642.2,929.0 699.2,988.0 752.5,1046.0" fill="none" stroke="#00c800" stroke-width="6.20" stroke-linejoin="miter" stroke-miterlimit="10" stroke-dasharray="4.0 6.64"/>
<polyline points="471.2,798.5 528.2,826.0 585.2,848.0 642.2,869.5 698.5,893.6" fill="none" stroke="#000" stroke-width="9.20" stroke-linejoin="miter" stroke-miterlimit="10" stroke-dasharray="4.0 6.64"/>
<polyline points="471.2,798.5 528.2,826.0 585.2,848.0 642.2,869.5 698.5,893.6" fill="none" stroke="#ff0000" stroke-width="6.20" stroke-linejoin="miter" stroke-miterlimit="10" stroke-dasharray="4.0 6.64"/>
<path transform="translate(148.80 102.08) translate(-76.56 0)" d="M5.80 -10.44L26.68 -10.44 M37.12 -19.72L39.44 -20.88L42.92 -24.36L42.92 0.00 M63.80 -24.36L60.32 -23.20L58.00 -19.72L56.84 -13.92L56.84 -10.44L58.00 -4.64L60.32 -1.16L63.80 0.00L66.12 0.00L69.60 -1.16L71.92 -4.64L73.08 -10.44L73.08 -13.92L71.92 -19.72L69.60 -23.20L66.12 -24.36L63.80 -24.36" fill="none" stroke="#000" stroke-width="2.90" stroke-linecap="butt" stroke-linejoin="round"/>
<path transform="translate(148.80 203.08) translate(-76.56 0)" d="M5.80 -10.44L26.68 -10.44 M37.12 -19.72L39.44 -20.88L42.92 -24.36L42.92 0.00 M58.00 -18.56L58.00 -19.72L59.16 -22.04L60.32 -23.20L62.64 -24.36L67.28 -24.36L69.60 -23.20L70.76 -22.04L71.92 -19.72L71.92 -17.40L70.76 -15.08L68.44 -11.60L56.84 0.00L73.08 0.00" fill="none" stroke="#000" stroke-width="2.90" stroke-linecap="butt" stroke-linejoin="round"/>
<path transform="translate(148.80 304.08) translate(-76.56 0)" d="M5.80 -10.44L26.68 -10.44 M37.12 -19.72L39.44 -20.88L42.92 -24.36L42.92 0.00 M68.44 -24.36L56.84 -8.12L74.24 -8.12 M68.44 -24.36L68.44 0.00" fill="none" stroke="#000" stroke-width="2.90" stroke-linecap="butt" stroke-linejoin="round"/>
<path transform="translate(148.80 405.08) translate(-76.56 0)" d="M5.80 -10.44L26.68 -10.44 M37.12 -19.72L39.44 -20.88L42.92 -24.36L42.92 0.00 M71.92 -20.88L70.76 -23.20L67.28 -24.36L64.96 -24.36L61.48 -23.20L59.16 -19.72L58.00 -13.92L58.00 -8.12L59.16 -3.48L61.48 -1.16L64.96 0.00L66.12 0.00L69.60 -1.16L71.92 -3.48L73.08 -6.96L73.08 -8.12L71.92 -11.60L69.60 -13.92L66.12 -15.08L64.96 -15.08L61.48 -13.92L59.16 -11.60L58.00 -8.12" fill="none" stroke="#000" stroke-width="2.90" stroke-linecap="butt" stroke-linejoin="round"/>
<path transform="translate(148.80 506.08) translate(-76.56 0)" d="M5.80 -10.44L26.68 -10.44 M37.12 -19.72L39.44 -20.88L42.92 -24.36L42.92 0.00 M62.64 -24.36L59.16 -23.20L58.00 -20.88L58.00 -18.56L59.16 -16.24L61.48 -15.08L66.12 -13.92L69.60 -12.76L71.92 -10.44L73.08 -8.12L73.08 -4.64L71.92 -2.32L70.76 -1.16L67.28 0.00L62.64 0.00L59.16 -1.16L58.00 -2.32L56.84 -4.64L56.84 -8.12L58.00 -10.44L60.32 -12.76L63.80 -13.92L68.44 -15.08L70.76 -16.24L71.92 -18.56L71.92 -20.88L70.76 -23.20L67.28 -24.36L62.64 -24.36" fill="none" stroke="#000" stroke-width="2.90" stroke-linecap="butt" stroke-linejoin="round"/>
<path transform="translate(148.80 607.08) translate(-76.56 0)" d="M5.80 -10.44L26.68 -10.44 M34.80 -18.56L34.80 -19.72L35.96 -22.04L37.12 -23.20L39.44 -24.36L44.08 -24.36L46.40 -23.20L47.56 -22.04L48.72 -19.72L48.72 -17.40L47.56 -15.08L45.24 -11.60L33.64 0.00L49.88 0.00 M63.80 -24.36L60.32 -23.20L58.00 -19.72L56.84 -13.92L56.84 -10.44L58.00 -4.64L60.32 -1.16L63.80 0.00L66.12 0.00L69.60 -1.16L71.92 -4.64L73.08 -10.44L73.08 -13.92L71.92 -19.72L69.60 -23.20L66.12 -24.36L63.80 -24.36" fill="none" stroke="#000" stroke-width="2.90" stroke-linecap="butt" stroke-linejoin="round"/>
<path transform="translate(148.80 630.18) translate(-53.36 0)" d="M5.80 -10.44L26.68 -10.44 M37.12 -19.72L39.44 -20.88L42.92 -24.36L42.92 0.00" fill="none" stroke="#000" stroke-width="2.90" stroke-linecap="butt" stroke-linejoin="round"/>
<path transform="translate(148.80 745.93) translate(-88.16 0)" d="M5.80 -10.44L26.68 -10.44 M37.12 -19.72L39.44 -20.88L42.92 -24.36L42.92 0.00 M59.16 -2.32L58.00 -1.16L59.16 0.00L60.32 -1.16L59.16 -2.32 M82.36 -24.36L70.76 -24.36L69.60 -13.92L70.76 -15.08L74.24 -16.24L77.72 -16.24L81.20 -15.08L83.52 -12.76L84.68 -9.28L84.68 -6.96L83.52 -3.48L81.20 -1.16L77.72 0.00L74.24 0.00L70.76 -1.16L69.60 -2.32L68.44 -4.64" fill="none" stroke="#000" stroke-width="2.90" stroke-linecap="butt" stroke-linejoin="round"/>
<path transform="translate(148.80 861.68) translate(-53.36 0)" d="M5.80 -10.44L26.68 -10.44 M34.80 -18.56L34.80 -19.72L35.96 -22.04L37.12 -23.20L39.44 -24.36L44.08 -24.36L46.40 -23.20L47.56 -22.04L48.72 -19.72L48.72 -17.40L47.56 -15.08L45.24 -11.60L33.64 0.00L49.88 0.00" fill="none" stroke="#000" stroke-width="2.90" stroke-linecap="butt" stroke-linejoin="round"/>
<path transform="translate(148.80 977.43) translate(-88.16 0)" d="M5.80 -10.44L26.68 -10.44 M34.80 -18.56L34.80 -19.72L35.96 -22.04L37.12 -23.20L39.44 -24.36L44.08 -24.36L46.40 -23.20L47.56 -22.04L48.72 -19.72L48.72 -17.40L47.56 -15.08L45.24 -11.60L33.64 0.00L49.88 0.00 M59.16 -2.32L58.00 -1.16L59.16 0.00L60.32 -1.16L59.16 -2.32 M82.36 -24.36L70.76 -24.36L69.60 -13.92L70.76 -15.08L74.24 -16.24L77.72 -16.24L81.20 -15.08L83.52 -12.76L84.68 -9.28L84.68 -6.96L83.52 -3.48L81.20 -1.16L77.72 0.00L74.24 0.00L70.76 -1.16L69.60 -2.32L68.44 -4.64" fill="none" stroke="#000" stroke-width="2.90" stroke-linecap="butt" stroke-linejoin="round"/>
<path transform="translate(186.20 1091.50) translate(-11.60 0)" d="M10.44 -24.36L6.96 -23.20L4.64 -19.72L3.48 -13.92L3.48 -10.44L4.64 -4.64L6.96 -1.16L10.44 0.00L12.76 0.00L16.24 -1.16L18.56 -4.64L19.72 -10.44L19.72 -13.92L18.56 -19.72L16.24 -23.20L12.76 -24.36L10.44 -24.36" fill="none" stroke="#000" stroke-width="2.90" stroke-linecap="butt" stroke-linejoin="round"/>
<path transform="translate(300.20 1091.50) translate(-11.60 0)" d="M4.64 -18.56L4.64 -19.72L5.80 -22.04L6.96 -23.20L9.28 -24.36L13.92 -24.36L16.24 -23.20L17.40 -22.04L18.56 -19.72L18.56 -17.40L17.40 -15.08L15.08 -11.60L3.48 0.00L19.72 0.00" fill="none" stroke="#000" stroke-width="2.90" stroke-linecap="butt" stroke-linejoin="round"/>
<path transform="translate(414.20 1091.50) translate(-11.60 0)" d="M15.08 -24.36L3.48 -8.12L20.88 -8.12 M15.08 -24.36L15.08 0.00" fill="none" stroke="#000" stroke-width="2.90" stroke-linecap="butt" stroke-linejoin="round"/>
<path transform="translate(528.20 1091.50) translate(-11.60 0)" d="M18.56 -20.88L17.40 -23.20L13.92 -24.36L11.60 -24.36L8.12 -23.20L5.80 -19.72L4.64 -13.92L4.64 -8.12L5.80 -3.48L8.12 -1.16L11.60 0.00L12.76 0.00L16.24 -1.16L18.56 -3.48L19.72 -6.96L19.72 -8.12L18.56 -11.60L16.24 -13.92L12.76 -15.08L11.60 -15.08L8.12 -13.92L5.80 -11.60L4.64 -8.12" fill="none" stroke="#000" stroke-width="2.90" stroke-linecap="butt" stroke-linejoin="round"/>
<path transform="translate(642.20 1091.50) translate(-11.60 0)" d="M9.28 -24.36L5.80 -23.20L4.64 -20.88L4.64 -18.56L5.80 -16.24L8.12 -15.08L12.76 -13.92L16.24 -12.76L18.56 -10.44L19.72 -8.12L19.72 -4.64L18.56 -2.32L17.40 -1.16L13.92 0.00L9.28 0.00L5.80 -1.16L4.64 -2.32L3.48 -4.64L3.48 -8.12L4.64 -10.44L6.96 -12.76L10.44 -13.92L15.08 -15.08L17.40 -16.24L18.56 -18.56L18.56 -20.88L17.40 -23.20L13.92 -24.36L9.28 -24.36" fill="none" stroke="#000" stroke-width="2.90" stroke-linecap="butt" stroke-linejoin="round"/>
<path transform="translate(756.20 1091.50) translate(-23.20 0)" d="M6.96 -19.72L9.28 -20.88L12.76 -24.36L12.76 0.00 M33.64 -24.36L30.16 -23.20L27.84 -19.72L26.68 -13.92L26.68 -10.44L27.84 -4.64L30.16 -1.16L33.64 0.00L35.96 0.00L39.44 -1.16L41.76 -4.64L42.92 -10.44L42.92 -13.92L41.76 -19.72L39.44 -23.20L35.96 -24.36L33.64 -24.36" fill="none" stroke="#000" stroke-width="2.90" stroke-linecap="butt" stroke-linejoin="round"/>
<path transform="translate(491.50 1146.20) translate(-71.25 0)" d="M4.52 -24.36L4.52 0.00 M4.52 -24.36L14.70 -24.36L18.10 -23.20L19.23 -22.04L20.36 -19.72L20.36 -17.40L19.23 -15.08L18.10 -13.92L14.70 -12.76L4.52 -12.76 M12.44 -12.76L20.36 0.00 M27.14 -9.28L40.72 -9.28L40.72 -11.60L39.58 -13.92L38.45 -15.08L36.19 -16.24L32.80 -16.24L30.54 -15.08L28.27 -12.76L27.14 -9.28L27.14 -6.96L28.27 -3.48L30.54 -1.16L32.80 0.00L36.19 0.00L38.45 -1.16L40.72 -3.48 M61.07 -24.36L61.07 0.00 M61.07 -12.76L58.81 -15.08L56.55 -16.24L53.16 -16.24L50.89 -15.08L48.63 -12.76L47.50 -9.28L47.50 -6.96L48.63 -3.48L50.89 -1.16L53.16 0.00L56.55 0.00L58.81 -1.16L61.07 -3.48 M81.43 -12.76L80.30 -15.08L76.91 -16.24L73.51 -16.24L70.12 -15.08L68.99 -12.76L70.12 -10.44L72.38 -9.28L78.04 -8.12L80.30 -6.96L81.43 -4.64L81.43 -3.48L80.30 -1.16L76.91 0.00L73.51 0.00L70.12 -1.16L68.99 -3.48 M89.35 -24.36L89.35 0.00 M89.35 -11.60L92.74 -15.08L95.00 -16.24L98.40 -16.24L100.66 -15.08L101.79 -11.60L101.79 0.00 M109.71 -24.36L110.84 -23.20L111.97 -24.36L110.84 -25.52L109.71 -24.36 M110.84 -16.24L110.84 0.00 M126.67 -24.36L124.41 -24.36L122.15 -23.20L121.02 -19.72L121.02 0.00 M117.62 -16.24L125.54 -16.24 M134.59 -24.36L134.59 -4.64L135.72 -1.16L137.98 0.00L140.24 0.00 M131.20 -16.24L139.11 -16.24" fill="none" stroke="#000" stroke-width="2.90" stroke-linecap="butt" stroke-linejoin="round"/>
<path transform="translate(36.70 415.60) rotate(-90) translate(0.00 0)" d="M9.02 -24.36L9.02 0.00 M1.13 -24.36L16.91 -24.36 M22.55 -16.24L22.55 -4.64L23.68 -1.16L25.93 0.00L29.32 0.00L31.57 -1.16L34.95 -4.64 M34.95 -16.24L34.95 0.00 M43.97 -16.24L43.97 0.00 M43.97 -9.28L45.10 -12.76L47.36 -15.08L49.61 -16.24L52.99 -16.24 M58.63 -16.24L58.63 0.00 M58.63 -11.60L62.01 -15.08L64.27 -16.24L67.65 -16.24L69.91 -15.08L71.03 -11.60L71.03 0.00 M84.56 -16.24L82.31 -15.08L80.05 -12.76L78.93 -9.28L78.93 -6.96L80.05 -3.48L82.31 -1.16L84.56 0.00L87.95 0.00L90.20 -1.16L92.46 -3.48L93.58 -6.96L93.58 -9.28L92.46 -12.76L90.20 -15.08L87.95 -16.24L84.56 -16.24 M99.22 -16.24L105.99 0.00 M112.75 -16.24L105.99 0.00 M118.39 -9.28L131.92 -9.28L131.92 -11.60L130.79 -13.92L129.66 -15.08L127.41 -16.24L124.03 -16.24L121.77 -15.08L119.52 -12.76L118.39 -9.28L118.39 -6.96L119.52 -3.48L121.77 -1.16L124.03 0.00L127.41 0.00L129.66 -1.16L131.92 -3.48 M139.81 -16.24L139.81 0.00 M139.81 -9.28L140.94 -12.76L143.20 -15.08L145.45 -16.24L148.83 -16.24 M172.51 -24.36L172.51 0.00 M172.51 -24.36L181.53 0.00 M190.55 -24.36L181.53 0.00 M190.55 -24.36L190.55 0.00" fill="none" stroke="#000" stroke-width="2.90" stroke-linecap="butt" stroke-linejoin="round"/>
<path transform="translate(45.20 221.54) rotate(-90) translate(0.00 0)" d="M2.71 -14.62L2.71 -4.18L3.38 -2.09L4.74 -0.70L6.77 0.00L8.12 0.00L10.15 -0.70L11.50 -2.09L12.18 -4.18L12.18 -14.62 M15.56 -14.62L20.97 0.00 M26.38 -14.62L20.97 0.00" fill="none" stroke="#000" stroke-width="2.90" stroke-linecap="butt" stroke-linejoin="round"/>
<path transform="translate(58.20 832.50) rotate(-90) translate(0.00 0)" d="M20.30 -16.12L18.79 -12.76L17.17 -9.05L15.31 -4.87L12.18 -1.57L8.58 -0.06L4.99 -0.70L2.90 -3.02L2.15 -6.73L2.78 -10.32L4.87 -13.92L8.12 -16.01L11.60 -16.36L14.27 -15.08L16.12 -12.41L17.17 -9.05L18.56 -4.29L20.42 -0.70L21.69 0.81" fill="none" stroke="#000" stroke-width="3.20" stroke-linecap="butt" stroke-linejoin="round"/>
</svg></body></html>
